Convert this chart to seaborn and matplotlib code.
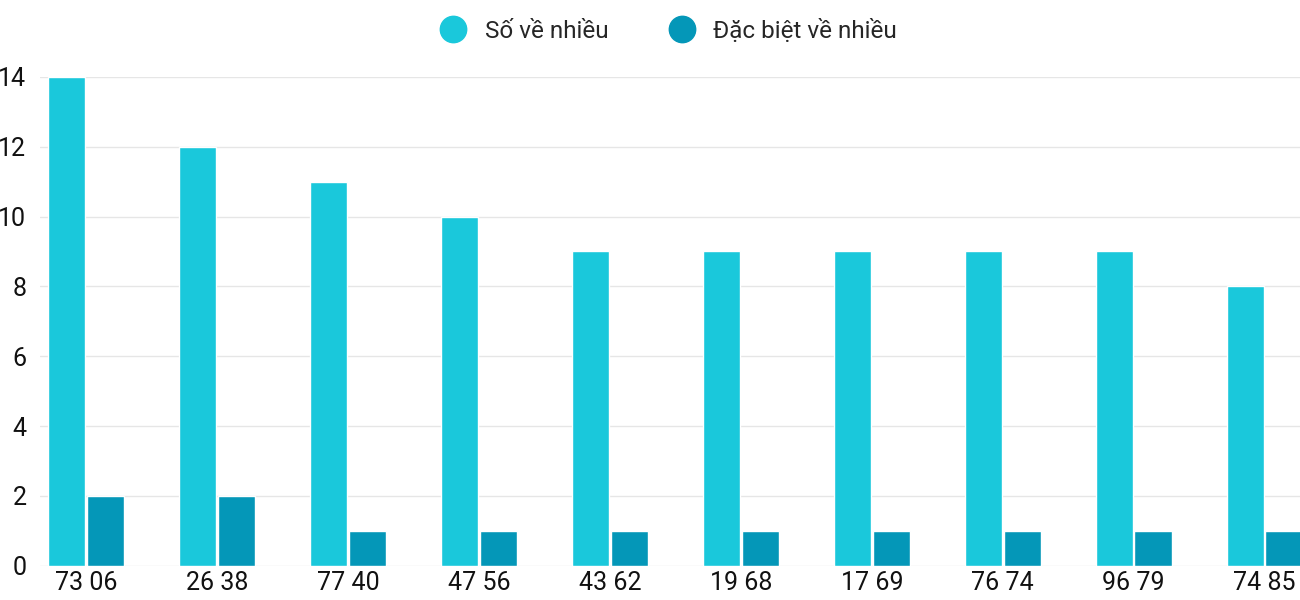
import matplotlib
matplotlib.use("Agg")
import matplotlib.pyplot as plt
import seaborn as sns
import pandas as pd
from matplotlib.lines import Line2D

categories = ["73 06","26 38","77 40","47 56","43 62","19 68","17 69","76 74","96 79","74 85"]
so_ve_nhieu = [14,12,11,10,9,9,9,9,9,8]
dac_biet = [2,2,1,1,1,1,1,1,1,1]
series = ["Số về nhiều", "Đặc biệt về nhiều"]
colors = ["#1ac8db", "#0497b8"]

df = pd.DataFrame({
    "cat": categories*2,
    "val": so_ve_nhieu + dac_biet,
    "series": [series[0]]*10 + [series[1]]*10,
})

sns.set_theme(style="white")
plt.rcParams['font.family'] = ['Roboto', 'DejaVu Sans']
fig = plt.figure(figsize=(13, 6), dpi=100)
ax = fig.add_axes([0.031, 0.057, 0.969, 0.815])
sns.barplot(data=df, x="cat", y="val", hue="series", palette=colors, ax=ax,
            width=0.59, gap=0.04, legend=False, saturation=1)
ax.set_xlim(-0.35, 9.27)
ax.set_ylim(0, 14)
ax.set_yticks(range(0, 15, 2))
ax.yaxis.grid(True, color="#e6e6e6", lw=1)
ax.set_axisbelow(True)
for s in ax.spines.values():
    s.set_visible(False)
ax.set_xlabel(""); ax.set_ylabel("")
ax.tick_params(axis="both", labelsize=18, length=0, colors="#111111")
ax.tick_params(axis="y", pad=10)
ax.tick_params(axis="x", pad=4)
handles = [Line2D([], [], marker="o", ls="", markersize=19, color=c) for c in colors]
fig.legend(handles, series, loc="upper center", bbox_to_anchor=(0.51, 1.005), ncol=2,
           frameon=False, fontsize=17.5, handletextpad=0.3, columnspacing=2.0)
fig.savefig("out.png")
